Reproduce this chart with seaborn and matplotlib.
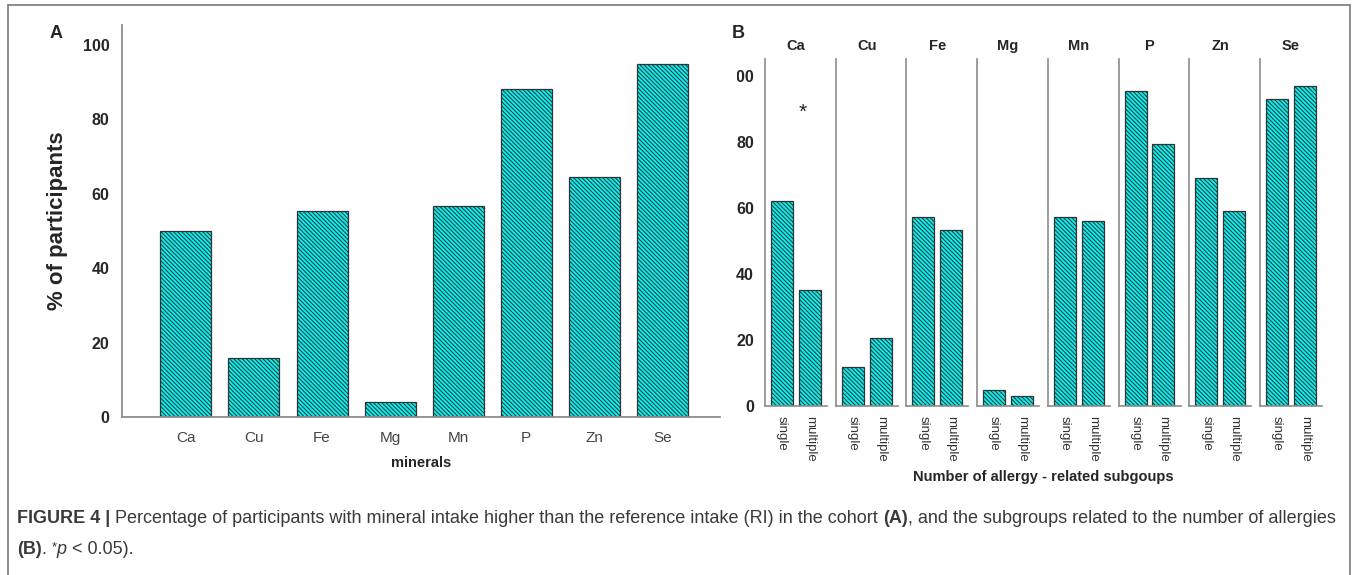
import numpy as np
import pandas as pd
import matplotlib
matplotlib.use("Agg")
import matplotlib.pyplot as plt
import matplotlib.transforms as mtransforms
from matplotlib.lines import Line2D
import seaborn as sns

# Data
minerals = ["Ca", "Cu", "Fe", "Mg", "Mn", "P", "Zn", "Se"]
pct_cohort = [50.0, 15.9, 55.4, 4.0, 56.7, 88.2, 64.5, 94.9]
groups = ["single", "multiple"]
pct_single = [62.1, 11.9, 57.3, 4.8, 57.3, 95.4, 69.2, 93.0]
pct_multiple = [35.3, 20.6, 53.3, 2.9, 56.0, 79.5, 59.0, 97.1]
yticks = [0, 20, 40, 60, 80, 100]
sig_minerals = ["Ca"]

W, H = 1357, 575

sns.set_style("white")
plt.rcParams["font.family"] = ["Liberation Sans", "DejaVu Sans"]
plt.rcParams["hatch.linewidth"] = 0.75
plt.rcParams["hatch.color"] = "#183030"

BAR = "#00f4f4"
EDGE = "#333333"
SPINE = "#8c8c8c"
HATCH = "\\" * 8
NARROW = ["Liberation Sans Narrow", "Liberation Sans", "DejaVu Sans"]


def px_axes(fig, left, top, right, bottom):
    return fig.add_axes([left / W, 1 - bottom / H, (right - left) / W, (bottom - top) / H])


fig = plt.figure(figsize=(W / 100, H / 100), dpi=100)

# ---- Panel A ----
axA = px_axes(fig, 122, 25, 720, 417)
df_a = pd.DataFrame({"mineral": minerals, "pct": pct_cohort})
sns.barplot(data=df_a, x="mineral", y="pct", order=minerals, color=BAR, saturation=1,
            width=0.75, edgecolor=EDGE, linewidth=0.9, hatch=HATCH, ax=axA)
axA.set_xlim(-0.94, 7.85)
axA.set_ylim(0, 105.4)
for s in ["top", "right"]:
    axA.spines[s].set_visible(False)
for s in ["left", "bottom"]:
    axA.spines[s].set_color(SPINE)
    axA.spines[s].set_linewidth(1.3)
axA.set_yticks(yticks)
axA.set_yticklabels([str(v) for v in yticks], fontsize=11.5, fontweight="bold")
axA.tick_params(axis="y", length=8, width=1.2, color="#222", pad=1)
axA.tick_params(axis="x", length=7, width=1.2, color="#444", labelsize=11, labelcolor="#444", pad=3)
axA.set_ylabel("% of participants", fontsize=16, fontweight="bold")
axA.yaxis.set_label_coords(-0.09, 0.5)
axA.set_xlabel("minerals", fontsize=10.5, fontweight="bold", family=NARROW)
axA.xaxis.set_label_coords(0.5, -0.10)

# ---- Panel B ----
top_b, bot_b = 59, 406
facet_axes = []
for i, m in enumerate(minerals):
    left = 765 + 70.7 * i
    ax = px_axes(fig, left, top_b, left + 62, bot_b)
    df_b = pd.DataFrame({"group": groups, "pct": [pct_single[i], pct_multiple[i]]})
    sns.barplot(data=df_b, x="group", y="pct", order=groups, color=BAR, saturation=1,
                width=0.79, edgecolor=EDGE, linewidth=0.9, hatch=HATCH, ax=ax)
    ax.set_xlim(-0.61, 1.61)
    ax.set_ylim(0, 105.2)
    for s in ["top", "right"]:
        ax.spines[s].set_visible(False)
    for s in ["left", "bottom"]:
        ax.spines[s].set_color(SPINE)
        ax.spines[s].set_linewidth(1.2)
    ax.set_xlabel("")
    ax.set_ylabel("")
    ax.tick_params(axis="x", length=6, width=1.1, color="#333", labelsize=9.5,
                   labelcolor="#333", labelrotation=270, pad=1)
    if i == 0:
        ax.set_yticks(yticks)
        ax.set_yticklabels([str(v) for v in yticks], fontsize=11.5, fontweight="bold")
        ax.tick_params(axis="y", length=7, width=1.2, color="#222", pad=1)
    else:
        ax.set_yticks([])
    ax.text(0.5, 1 + (top_b - 46) / (bot_b - top_b), m, transform=ax.transAxes,
            ha="center", va="center", fontsize=10.5, fontweight="bold", family=NARROW)
    if m in sig_minerals:
        ax.text(0.75, 89, "*", ha="center", va="center", fontsize=15)
    facet_axes.append(ax)

# the "100" label of panel B is cut by the panel edge in the original (shows "00")
fig.canvas.draw()
renderer = fig.canvas.get_renderer()
top_lab = facet_axes[0].yaxis.get_major_ticks()[-1].label1
bb = top_lab.get_window_extent(renderer)
top_lab.set_clip_box(mtransforms.Bbox([[bb.x0 + bb.width * 0.36, 0], [W, H]]))
top_lab.set_clip_on(True)

fig.text(1043 / W, 1 - 477 / H, "Number of allergy - related subgoups", ha="center", va="center",
         fontsize=10.5, fontweight="bold", family=NARROW)

# panel letters
fig.text(56 / W, 1 - 34 / H, "A", ha="center", va="center", fontsize=13, fontweight="bold")
fig.text(738 / W, 1 - 34 / H, "B", ha="center", va="center", fontsize=13, fontweight="bold")

# frame
fc = "#7a7a7a"
for xs, ys in [([8, 8], [5, 575]), ([8, 1350], [5, 5]), ([1350, 1350], [5, 575])]:
    fig.add_artist(Line2D([x / W for x in xs], [1 - y / H for y in ys],
                          transform=fig.transFigure, color=fc, lw=1.2))

# caption, pieced together
CAP = 13
cap_color = "#3a3a3a"


def caption_line(pieces, x0, y):
    x = x0
    for txt, kw in pieces:
        t = fig.text(x / W, 1 - (y - kw.get("rise", 0)) / H, txt, ha="left", va="baseline",
                     color=cap_color, family=NARROW, fontsize=kw.get("size", CAP),
                     fontweight=kw.get("weight", "normal"), fontstyle=kw.get("style", "normal"))
        x += t.get_window_extent(renderer).width


caption_line([
    ("FIGURE 4 | ", {"weight": "bold"}),
    ("Percentage of participants with mineral intake higher than the reference intake (RI) in the cohort ", {}),
    ("(A)", {"weight": "bold"}),
    (", and the subgroups related to the number of allergies", {}),
], 17, 523)
caption_line([
    ("(B)", {"weight": "bold"}),
    (". ", {}),
    ("*", {"size": 9.5, "rise": 4}),
    ("p", {"style": "italic"}),
    (" < 0.05).", {}),
], 17, 554)

fig.savefig("out.png", dpi=100)
